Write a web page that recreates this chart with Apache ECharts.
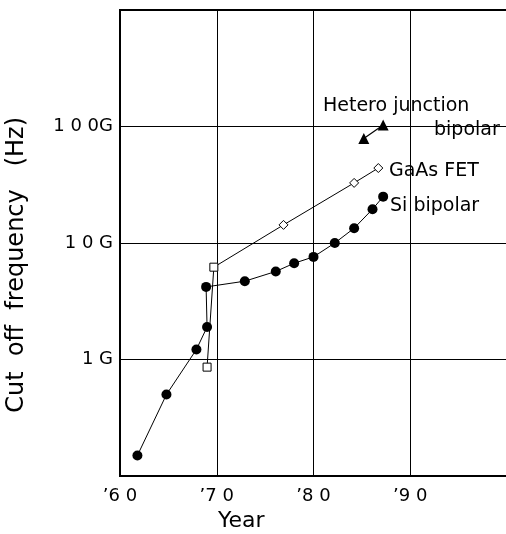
<!DOCTYPE html>
<html>
<head>
<meta charset="utf-8">
<script src="https://cdn.jsdelivr.net/npm/echarts@6/dist/echarts.min.js"></script>
<style>
    html, body { margin: 0; padding: 0; background: #fff; }
    #chart { width: 506px; height: 534px; }
</style>
</head>
<body>
<div id="chart"></div>
<script>
    // 数据 (year, cut off frequency in GHz)
    var siYears = [1961.8, 1964.8, 1967.9, 1969.0, 1968.9, 1972.9, 1976.1, 1978.0, 1980.0, 1982.2, 1984.2, 1986.1, 1987.2];
    var siFreq = [0.15, 0.5, 1.22, 1.9, 4.2, 4.7, 5.7, 6.7, 7.6, 10, 13.4, 19.5, 25];

    var gaasYears = [1969.0, 1969.7, 1976.9, 1984.2, 1986.7];
    var gaasFreq = [0.86, 6.2, 14.3, 32.8, 44];
    var gaasSymbols = ['rect', 'rect', 'diamond', 'diamond', 'diamond'];

    var hbtYears = [1985.2, 1987.2];
    var hbtFreq = [79, 103];

    // 刻度标签
    var xTickLabels = { 1960: '\u20196 0', 1970: '\u20197 0', 1980: '\u20198 0', 1990: '\u20199 0' };
    var yTickLabels = { 1: '1 G', 10: '1 0 G', 100: '1 0 0G' };

    var FONT = 'DejaVu Sans';

    function pairs(xs, ys) {
        var out = [];
        for (var i = 0; i < xs.length; i++) {
            out.push([xs[i], ys[i]]);
        }
        return out;
    }

    var gaasData = [];
    for (var i = 0; i < gaasYears.length; i++) {
        gaasData.push({
            value: [gaasYears[i], gaasFreq[i]],
            symbol: gaasSymbols[i],
            symbolSize: gaasSymbols[i] == 'rect' ? 8 : 9
        });
    }

    var myChart = echarts.init(document.getElementById('chart'));
    myChart.setOption({
        animation: false,
        backgroundColor: '#fff',
        grid: {
            left: 120,
            top: 10,
            width: 387,   // 右边框落在画面外
            height: 466,
            outerBoundsMode: 'none',
            show: true,
            borderColor: '#000',
            borderWidth: 2
        },
        xAxis: {
            type: 'value',
            min: 1960,
            max: 2000,
            interval: 10,
            axisLine: { show: true, lineStyle: { color: '#000', width: 2 } },
            axisTick: { show: false },
            splitLine: { lineStyle: { color: '#000', width: 1 } },
            axisLabel: {
                margin: 11,
                color: '#000',
                fontFamily: FONT,
                fontSize: 18,
                formatter: function (v) { return xTickLabels[v] || ''; }
            }
        },
        yAxis: {
            type: 'log',
            logBase: 10,
            min: 0.1,
            max: 1000,
            axisLine: { show: true, lineStyle: { color: '#000', width: 2 } },
            axisTick: { show: false },
            minorTick: { show: false },
            splitLine: { lineStyle: { color: '#000', width: 1 } },
            axisLabel: {
                margin: 7,
                color: '#000',
                fontFamily: FONT,
                fontSize: 18,
                formatter: function (v) {
                    var k = Math.round(v * 1000) / 1000;
                    return yTickLabels[k] || '';
                }
            }
        },
        series: [
            {
                name: 'Si bipolar',
                type: 'line',
                data: pairs(siYears, siFreq),
                symbol: 'circle',
                symbolSize: 10,
                lineStyle: { color: '#000', width: 1 },
                itemStyle: { color: '#000' }
            },
            {
                name: 'GaAs FET',
                type: 'line',
                data: gaasData,
                lineStyle: { color: '#000', width: 1 },
                itemStyle: { color: '#fff', borderColor: '#000', borderWidth: 1 }
            },
            {
                name: 'Hetero junction bipolar',
                type: 'line',
                data: pairs(hbtYears, hbtFreq),
                symbol: 'triangle',
                symbolSize: 11,
                lineStyle: { color: '#000', width: 1.2 },
                itemStyle: { color: '#000' }
            }
        ],
        // 文字说明
        graphic: [
            {
                type: 'text', left: 323, top: 97,
                style: { text: 'Hetero junction', fill: '#000', font: '19px "DejaVu Sans"' }
            },
            {
                type: 'text', left: 434, top: 121,
                style: { text: 'bipolar', fill: '#000', font: '19px "DejaVu Sans"' }
            },
            {
                type: 'text', left: 389, top: 162,
                style: { text: 'GaAs FET', fill: '#000', font: '19px "DejaVu Sans"' }
            },
            {
                type: 'text', left: 390, top: 197,
                style: { text: 'Si bipolar', fill: '#000', font: '19px "DejaVu Sans"' }
            },
            {
                type: 'text', left: 218, top: 510,
                style: { text: 'Year', fill: '#000', font: '22px "DejaVu Sans"' }
            },
            {
                type: 'text', left: 5, top: 117,
                style: { text: 'Cut  off  frequency   (Hz)', fill: '#000', font: '24px "DejaVu Sans"' },
                rotation: Math.PI / 2
            }
        ]
    });
</script>
</body>
</html>
